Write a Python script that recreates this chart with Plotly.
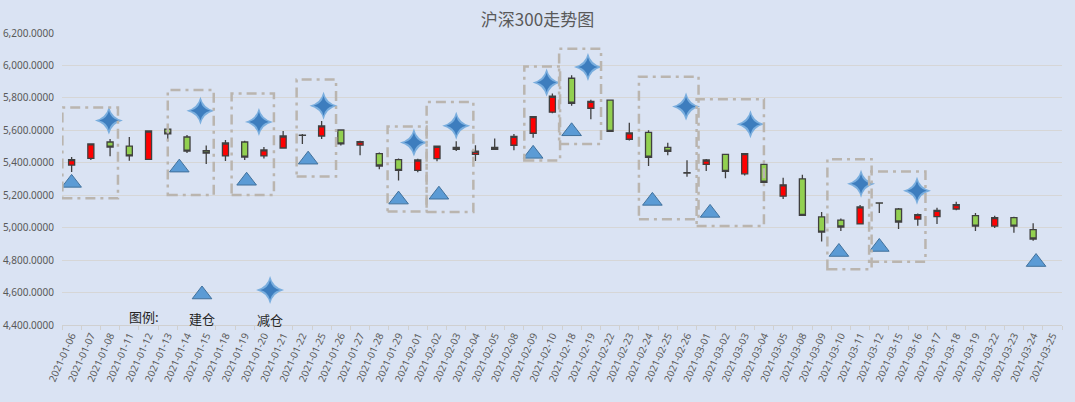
import plotly.graph_objects as go

# 沪深300 daily candles
dates = [
    "2021-01-06", "2021-01-07", "2021-01-08", "2021-01-11", "2021-01-12", "2021-01-13",
    "2021-01-14", "2021-01-15", "2021-01-18", "2021-01-19", "2021-01-20", "2021-01-21",
    "2021-01-22", "2021-01-25", "2021-01-26", "2021-01-27", "2021-01-28", "2021-01-29",
    "2021-02-01", "2021-02-02", "2021-02-03", "2021-02-04", "2021-02-05", "2021-02-08",
    "2021-02-09", "2021-02-10", "2021-02-18", "2021-02-19", "2021-02-22", "2021-02-23",
    "2021-02-24", "2021-02-25", "2021-02-26", "2021-03-01", "2021-03-02", "2021-03-03",
    "2021-03-04", "2021-03-05", "2021-03-08", "2021-03-09", "2021-03-10", "2021-03-11",
    "2021-03-12", "2021-03-15", "2021-03-16", "2021-03-17", "2021-03-18", "2021-03-19",
    "2021-03-22", "2021-03-23", "2021-03-24", "2021-03-25",
]
opens = [5386, 5427, 5528, 5503, 5421, 5608, 5559, 5475, 5442, 5528, 5442, 5491,
         5571, 5565, 5602, 5509, 5456, 5419, 5353, 5425, 5495, 5452, 5495, 5508,
         5582, 5712, 5921, 5736, 5786, 5545, 5588, 5495, 5339, 5390, 5452, 5332,
         5390, 5194, 5301, 5066, 5047, 5023, 5152, 5115, 5053, 5068, 5115, 5074,
         5010, 5062, 4988, None]
highs = [5435, 5518, 5547, 5559, 5598, 5619, 5571, 5506, 5540, 5536, 5497, 5596,
         5577, 5658, 5603, 5536, 5464, 5427, 5425, 5502, 5532, 5508, 5549, 5578,
         5685, 5827, 5940, 5788, 5786, 5646, 5600, 5524, 5415, 5423, 5452, 5456,
         5396, 5307, 5326, 5097, 5056, 5140, 5154, 5122, 5088, 5123, 5160, 5090,
         5074, 5068, 5027, None]
lows = [5343, 5417, 5440, 5413, 5417, 5532, 5460, 5392, 5411, 5417, 5427, 5489,
        5516, 5547, 5507, 5446, 5360, 5290, 5341, 5409, 5473, 5411, 5479, 5477,
        5555, 5705, 5751, 5668, 5594, 5537, 5380, 5446, 5314, 5349, 5304, 5322,
        5276, 5177, 5076, 4915, 4979, 5023, 5091, 4992, 5012, 5023, 5107, 4980,
        4998, 4969, 4920, None]
closes = [5419, 5516, 5497, 5442, 5596, 5578, 5472, 5460, 5522, 5435, 5479, 5565,
          5569, 5627, 5516, 5530, 5380, 5353, 5417, 5502, 5483, 5471, 5483, 5563,
          5685, 5810, 5767, 5779, 5594, 5584, 5434, 5471, 5337, 5417, 5347, 5456,
          5280, 5264, 5076, 4973, 5004, 5128, 5151, 5035, 5080, 5107, 5142, 5010,
          5062, 5010, 4930, None]

# 建仓 (triangles) and 减仓 (stars), x in category index units
buy_x = [0.0, 5.6, 9.1, 12.3, 17.0, 19.1, 24.0, 26.0, 30.2, 33.2, 39.9, 42.0, 50.15]
buy_y = [5276, 5370, 5289, 5419, 5173, 5203, 5455, 5594, 5165, 5091, 4850, 4881, 4788]
sell_x = [1.94, 6.7, 9.74, 13.1, 17.8, 20.0, 24.7, 26.85, 31.95, 35.3, 41.05, 43.96]
sell_y = [5661, 5721, 5652, 5751, 5525, 5628, 5895, 5990, 5747, 5638, 5270, 5227]

# dashed boxes round each trade
box_x0 = [-0.48, 5.0, 8.32, 11.7, 16.43, 18.46, 23.54, 25.35, 29.5, 32.5, 39.3, 41.47]
box_x1 = [2.41, 7.39, 10.52, 13.75, 18.46, 20.89, 25.4, 27.53, 32.6, 36.0, 41.6, 44.4]
box_y0 = [5182, 5202, 5202, 5315, 5099, 5097, 5414, 5515, 5052, 5011, 4743, 4790]
box_y1 = [5741, 5848, 5827, 5914, 5624, 5774, 5994, 6103, 5931, 5792, 5422, 5346]

# hand-made legend inside the plot
legend_title_pos = (3.76, 4451)
legend_buy_pos = (6.78, 4588)
legend_sell_pos = (10.32, 4616)
legend_buy_text = (6.78, 4443)
legend_sell_text = (10.32, 4431)

GRAY = "#595959"
BLUE = "#5B9BD5"
BG = "#DAE3F3"
idx = list(range(len(dates)))

fig = go.Figure()

fig.add_trace(go.Candlestick(
    x=idx, open=opens, high=highs, low=lows, close=closes,
    increasing=dict(fillcolor="#FF0000", line=dict(color="#404040", width=1.3)),
    decreasing=dict(fillcolor="#92D050", line=dict(color="#404040", width=1.3)),
    whiskerwidth=0,
    showlegend=False,
))

fig.add_trace(go.Scatter(
    x=buy_x + [legend_buy_pos[0]], y=buy_y + [legend_buy_pos[1]],
    mode="markers",
    marker=dict(symbol="triangle-up", size=17, color=BLUE,
                line=dict(color="#41719C", width=1)),
    showlegend=False, hoverinfo="skip",
))
# star with a darker core to mimic the soft-edged shape
fig.add_trace(go.Scatter(
    x=sell_x + [legend_sell_pos[0]], y=sell_y + [legend_sell_pos[1]],
    mode="markers",
    marker=dict(symbol="star-diamond", size=20, color="#7AAEDE",
                line=dict(width=0)),
    showlegend=False, hoverinfo="skip",
))
fig.add_trace(go.Scatter(
    x=sell_x + [legend_sell_pos[0]], y=sell_y + [legend_sell_pos[1]],
    mode="markers",
    marker=dict(symbol="star-diamond", size=14, color="#3D7DBE",
                line=dict(width=0)),
    showlegend=False, hoverinfo="skip",
))

for x0, x1, y0, y1 in zip(box_x0, box_x1, box_y0, box_y1):
    fig.add_shape(type="rect", xref="x", yref="y", x0=x0, x1=x1, y0=y0, y1=y1,
                  line=dict(color="#BAB5AF", width=2.5, dash="10px,5px,3px,5px"),
                  fillcolor="rgba(0,0,0,0)", layer="above")

cjk = "Noto Sans CJK SC"
for (lx, ly), txt in [(legend_title_pos, "图例:"), (legend_buy_text, "建仓"),
                      (legend_sell_text, "减仓")]:
    fig.add_annotation(x=lx, y=ly, xref="x", yref="y", text=txt, showarrow=False,
                       font=dict(family=cjk, size=13, color="#262626"))

fig.update_layout(
    width=1075, height=402,
    margin=dict(l=62, r=13, t=33, b=77),
    paper_bgcolor=BG,
    plot_bgcolor=BG,
    boxgap=0.55,
    title=dict(text="沪深300走势图", x=0.5, xanchor="center", y=0.95, yanchor="middle",
               font=dict(family=cjk, size=17, color=GRAY)),
    font=dict(family="Noto Sans", size=10, color=GRAY),
    xaxis=dict(
        range=[-0.5, len(dates) - 0.5],
        tickmode="array", tickvals=idx, ticktext=dates, tickangle=-66,
        ticks="", showgrid=False, zeroline=False,
        showline=True, linecolor="#D0D0D0", linewidth=1,
        minor=dict(tick0=-0.5, dtick=1, ticks="outside", ticklen=4,
                   tickcolor="#D0D0D0", showgrid=False),
        rangeslider=dict(visible=False),
        tickfont=dict(family="Noto Sans", size=10, color=GRAY),
        automargin=False,
    ),
    yaxis=dict(
        range=[4400, 6200], dtick=200, tickformat=",.4f",
        showgrid=True, gridcolor="#D6D6D6", gridwidth=1,
        zeroline=False, showline=False, ticks="",
        ticklabelstandoff=7,
        tickfont=dict(family="Noto Sans", size=10, color=GRAY),
        automargin=False,
    ),
)

fig.write_html(
    "out.html",
    config={"displayModeBar": False},
    post_script="document.body.style.margin='0';document.body.style.background='%s';" % BG,
)
